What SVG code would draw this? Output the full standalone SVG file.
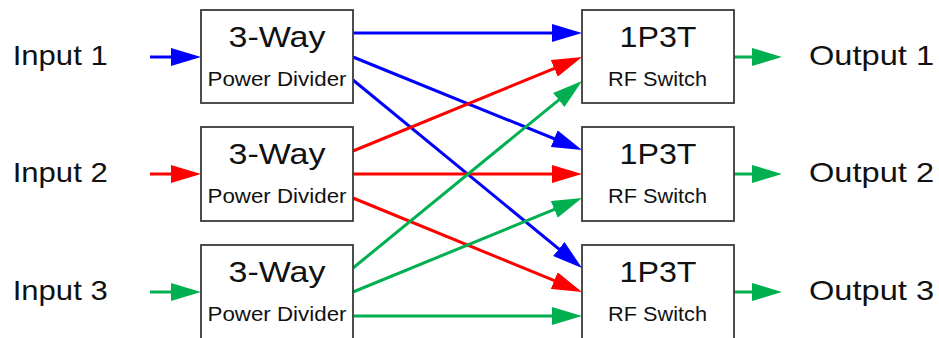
<svg xmlns="http://www.w3.org/2000/svg" width="939" height="338" viewBox="0 0 939 338">
<style>
.box{fill:#fff;stroke:#3a3a3a;stroke-width:1.8}
.t{font-family:"Liberation Sans",Arial,sans-serif;fill:#111}
.big{font-size:29px}
.small{font-size:20.5px}
.lbl{font-size:28px}
.c{fill:none;stroke-width:3}
.b{stroke:#0000FF}
.r{stroke:#FF0000}
.g{stroke:#00B050}
</style>
<defs>
<marker id="ab" markerUnits="strokeWidth" markerWidth="10" markerHeight="6" refX="8" refY="3" orient="auto"><path d="M0,0 L10,3 L0,6 z" fill="#0000FF"/></marker>
<marker id="ar" markerUnits="strokeWidth" markerWidth="10" markerHeight="6" refX="8" refY="3" orient="auto"><path d="M0,0 L10,3 L0,6 z" fill="#FF0000"/></marker>
<marker id="ag" markerUnits="strokeWidth" markerWidth="10" markerHeight="6" refX="8" refY="3" orient="auto"><path d="M0,0 L10,3 L0,6 z" fill="#00B050"/></marker>
</defs>
<rect width="939" height="338" fill="#fff"/>
<g id="connectors">
<line class="c b" x1="150" y1="57" x2="195" y2="57" marker-end="url(#ab)"/>
<line class="c r" x1="150" y1="174" x2="195" y2="174" marker-end="url(#ar)"/>
<line class="c g" x1="150" y1="292" x2="195" y2="292" marker-end="url(#ag)"/>
<line class="c g" x1="734" y1="57" x2="776" y2="57" marker-end="url(#ag)"/>
<line class="c g" x1="734" y1="174" x2="776" y2="174" marker-end="url(#ag)"/>
<line class="c g" x1="734" y1="292" x2="776" y2="292" marker-end="url(#ag)"/>
<line class="c b" x1="353" y1="33" x2="576" y2="33" marker-end="url(#ab)"/>
<line class="c b" x1="353" y1="57" x2="576.44" y2="147.74" marker-end="url(#ab)"/>
<line class="c b" x1="353" y1="80" x2="577.36" y2="264.19" marker-end="url(#ab)"/>
<line class="c r" x1="353" y1="151" x2="576.45" y2="59.28" marker-end="url(#ar)"/>
<line class="c r" x1="353" y1="174" x2="576" y2="174" marker-end="url(#ar)"/>
<line class="c r" x1="353" y1="198" x2="576.45" y2="289.72" marker-end="url(#ar)"/>
<line class="c g" x1="353" y1="268" x2="577.35" y2="84.8" marker-end="url(#ag)"/>
<line class="c g" x1="353" y1="292" x2="576.45" y2="200.28" marker-end="url(#ag)"/>
<line class="c g" x1="353" y1="316" x2="576" y2="316" marker-end="url(#ag)"/>
</g>
<g id="input1"><text class="t lbl" x="12.7" y="65" textLength="95" lengthAdjust="spacingAndGlyphs">Input 1</text></g>
<g id="input2"><text class="t lbl" x="12.7" y="182" textLength="95" lengthAdjust="spacingAndGlyphs">Input 2</text></g>
<g id="input3"><text class="t lbl" x="12.7" y="300" textLength="95" lengthAdjust="spacingAndGlyphs">Input 3</text></g>
<g id="output1"><text class="t lbl" x="809" y="65" textLength="125" lengthAdjust="spacingAndGlyphs">Output 1</text></g>
<g id="output2"><text class="t lbl" x="809" y="182" textLength="125" lengthAdjust="spacingAndGlyphs">Output 2</text></g>
<g id="output3"><text class="t lbl" x="809" y="300" textLength="125" lengthAdjust="spacingAndGlyphs">Output 3</text></g>
<g id="divider1"><rect class="box" x="201" y="10" width="152" height="93"/>
<text class="t big" x="228.5" y="47" textLength="97" lengthAdjust="spacingAndGlyphs">3-Way</text>
<text class="t small" x="207.5" y="86" textLength="139" lengthAdjust="spacingAndGlyphs">Power Divider</text></g>
<g id="divider2"><rect class="box" x="201" y="127" width="152" height="94"/>
<text class="t big" x="228.5" y="164" textLength="97" lengthAdjust="spacingAndGlyphs">3-Way</text>
<text class="t small" x="207.5" y="203" textLength="139" lengthAdjust="spacingAndGlyphs">Power Divider</text></g>
<g id="divider3"><rect class="box" x="201" y="245" width="152" height="96"/>
<text class="t big" x="228.5" y="282" textLength="97" lengthAdjust="spacingAndGlyphs">3-Way</text>
<text class="t small" x="207.5" y="321" textLength="139" lengthAdjust="spacingAndGlyphs">Power Divider</text></g>
<g id="switch1"><rect class="box" x="582" y="10" width="152" height="93"/>
<text class="t big" x="619.5" y="47" textLength="77" lengthAdjust="spacingAndGlyphs">1P3T</text>
<text class="t small" x="608" y="86" textLength="99" lengthAdjust="spacingAndGlyphs">RF Switch</text></g>
<g id="switch2"><rect class="box" x="582" y="127" width="152" height="94"/>
<text class="t big" x="619.5" y="164" textLength="77" lengthAdjust="spacingAndGlyphs">1P3T</text>
<text class="t small" x="608" y="203" textLength="99" lengthAdjust="spacingAndGlyphs">RF Switch</text></g>
<g id="switch3"><rect class="box" x="582" y="245" width="152" height="96"/>
<text class="t big" x="619.5" y="282" textLength="77" lengthAdjust="spacingAndGlyphs">1P3T</text>
<text class="t small" x="608" y="321" textLength="99" lengthAdjust="spacingAndGlyphs">RF Switch</text></g>
</svg>
